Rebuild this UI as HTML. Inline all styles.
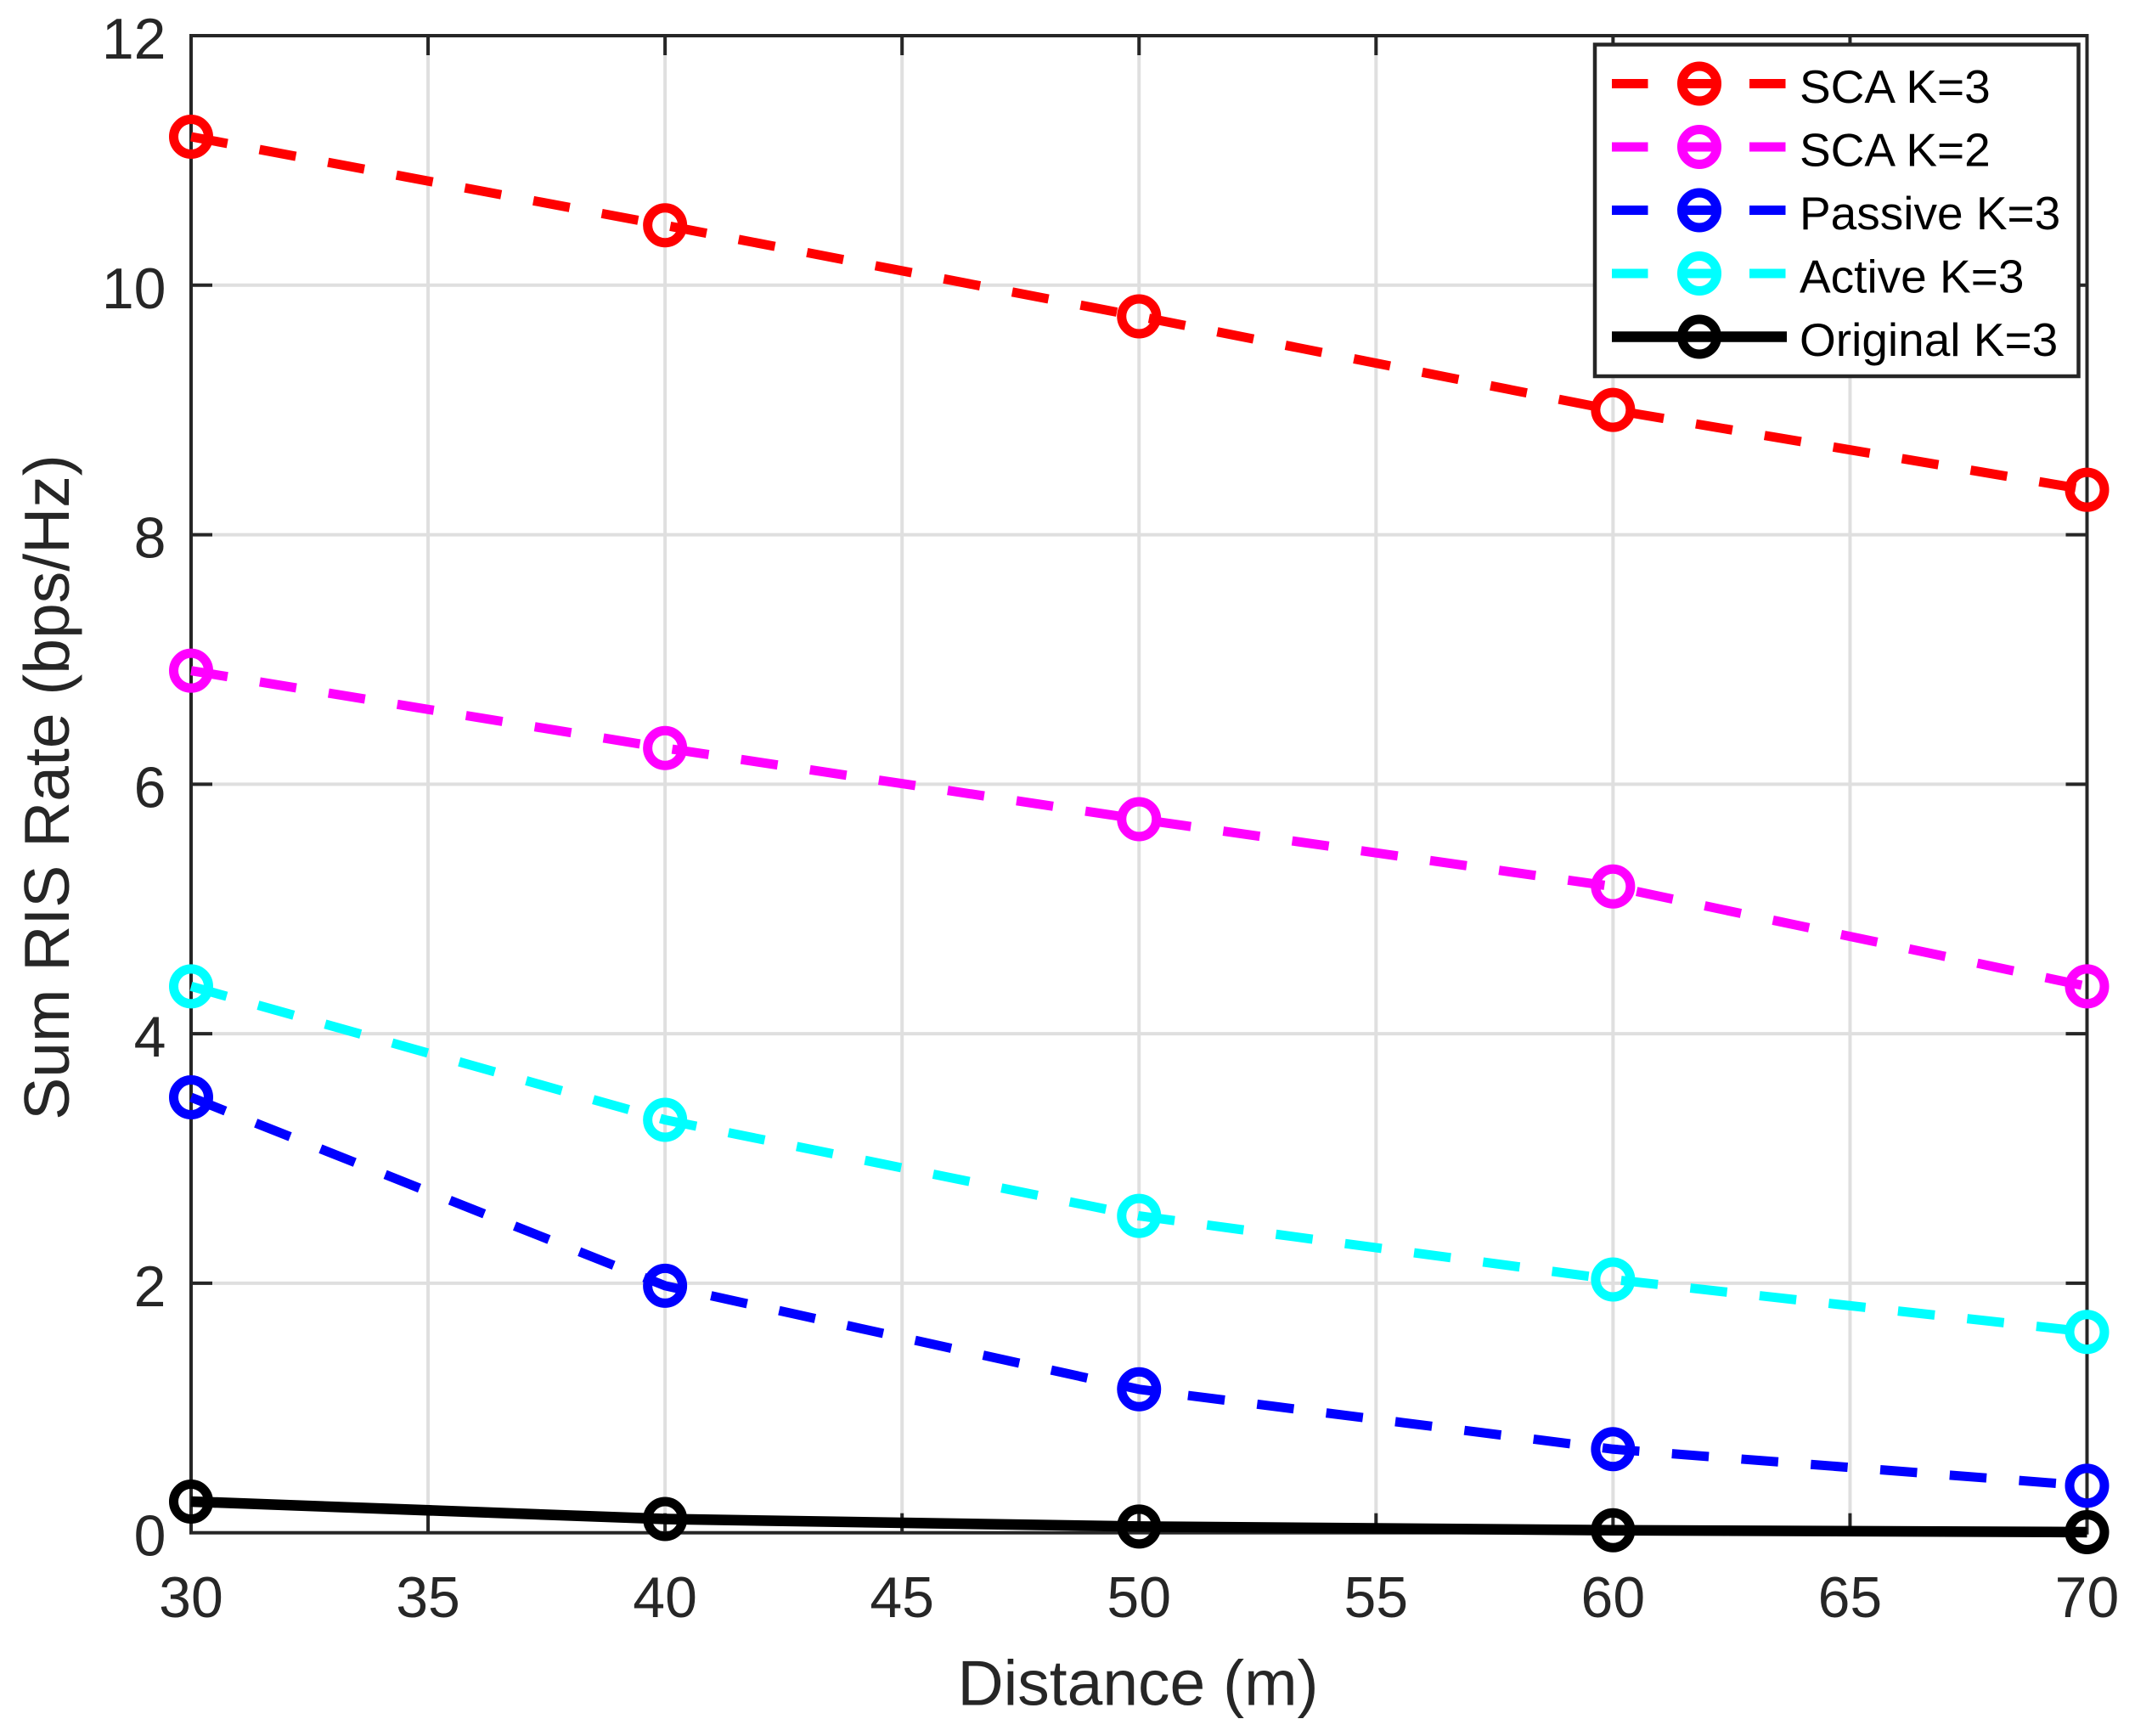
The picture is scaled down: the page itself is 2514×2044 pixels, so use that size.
<!DOCTYPE html>
<html lang="en">
<head>
<meta charset="utf-8">
<title>Sum RIS Rate vs Distance</title>
<style>
html,body{margin:0;padding:0;background:#fff;}
svg{display:block;}
text{font-family:"Liberation Sans",Arial,sans-serif;}
</style>
</head>
<body>
<svg id="chart" xmlns="http://www.w3.org/2000/svg" width="2514" height="2044" viewBox="0 0 2514 2044">
<rect x="0" y="0" width="2514" height="2044" fill="#ffffff"/>
<g id="grid"></g>
<g id="axes"></g>
<g id="series"></g>
<g id="legend"></g>
<text x="1340" y="2007.5" text-anchor="middle" font-size="75" fill="#262626">Distance (m)</text>
<text transform="translate(81,927) rotate(-90)" text-anchor="middle" font-size="75" fill="#262626">Sum RIS Rate (bps/Hz)</text>
</svg>
<script>
const distances = [30, 40, 50, 60, 70];
const scaK3 = [11.19, 10.48, 9.75, 9.0, 8.36];
const scaK2 = [6.91, 6.29, 5.72, 5.18, 4.38];
const passiveK3 = [3.49, 1.98, 1.15, 0.67, 0.377];
const activeK3 = [4.38, 3.31, 2.54, 2.03, 1.61];
const originalK3 = [0.25, 0.11, 0.05, 0.02, 0.005];
const xTicks = [30, 35, 40, 45, 50, 55, 60, 65, 70];
const yTicks = [0, 2, 4, 6, 8, 10, 12];
const seriesNames = ['SCA K=3', 'SCA K=2', 'Passive K=3', 'Active K=3', 'Original K=3'];
const seriesColors = ['#ff0000', '#ff00ff', '#0000ff', '#00ffff', '#000000'];
const seriesValues = [scaK3, scaK2, passiveK3, activeK3, originalK3];

const plotLeft = 225, plotRight = 2457.5, plotTop = 42, plotBottom = 1804.7;
const xMin = 30, xMax = 70, yMin = 0, yMax = 12;
const NS = 'http://www.w3.org/2000/svg';
const axisColor = '#262626', gridColor = '#dfdfdf';

function xScale(v) { return plotLeft + (v - xMin) / (xMax - xMin) * (plotRight - plotLeft); }
function yScale(v) { return plotBottom - (v - yMin) / (yMax - yMin) * (plotBottom - plotTop); }
function make(tag, attrs, parent) {
  const el = document.createElementNS(NS, tag);
  for (const k in attrs) el.setAttribute(k, attrs[k]);
  parent.appendChild(el);
  return el;
}
function slug(s) { return s.toLowerCase().replace(/[^a-z0-9]+/g, '-'); }

const gridG = document.getElementById('grid');
const axesG = document.getElementById('axes');
const seriesG = document.getElementById('series');
const legendG = document.getElementById('legend');

xTicks.forEach(function (t) {
  const x = xScale(t);
  if (t !== xMin && t !== xMax) {
    const g = make('line', { x1: x, x2: x, y1: plotTop, y2: plotBottom, stroke: gridColor, 'stroke-width': 4 }, gridG);
    
    
    const tb = make('line', { x1: x, x2: x, y1: plotBottom, y2: plotBottom - 23, stroke: axisColor, 'stroke-width': 4 }, axesG);
    
    
    const tt = make('line', { x1: x, x2: x, y1: plotTop, y2: plotTop + 23, stroke: axisColor, 'stroke-width': 4 }, axesG);
    
    
  }
  const lab = make('text', { x: x, y: 1904, 'text-anchor': 'middle', 'font-size': 68, fill: axisColor }, axesG);
  
  
  lab.textContent = t;
});

yTicks.forEach(function (t) {
  const y = yScale(t);
  if (t !== yMin && t !== yMax) {
    const g = make('line', { x1: plotLeft, x2: plotRight, y1: y, y2: y, stroke: gridColor, 'stroke-width': 4 }, gridG);
    
    
    const tl = make('line', { x1: plotLeft, x2: plotLeft + 25, y1: y, y2: y, stroke: axisColor, 'stroke-width': 4 }, axesG);
    
    
    const tr = make('line', { x1: plotRight, x2: plotRight - 25, y1: y, y2: y, stroke: axisColor, 'stroke-width': 4 }, axesG);
    
    
  }
  const lab = make('text', { x: 195.5, y: y + 27, 'text-anchor': 'end', 'font-size': 68, fill: axisColor }, axesG);
  
  
  lab.textContent = t;
});

const frame = make('rect', { x: plotLeft, y: plotTop, width: plotRight - plotLeft, height: plotBottom - plotTop, fill: 'none', stroke: axisColor, 'stroke-width': 4 }, axesG);



seriesValues.forEach(function (vals, i) {
  const color = seriesColors[i];
  const solid = color === '#000000';
  const g = make('g', {}, seriesG);
  
  
  const pts = vals.map(function (v, j) { return xScale(distances[j]) + ',' + yScale(v); }).join(' ');
  const line = make('polyline', { points: pts, fill: 'none', stroke: color, 'stroke-width': solid ? 12.5 : 11, 'stroke-linejoin': 'miter', 'stroke-dasharray': solid ? 'none' : '43.5 38.5' }, g);
  
  
  vals.forEach(function (v, j) {
    const c = make('circle', { cx: xScale(distances[j]), cy: yScale(v), r: 20.5, fill: 'none', stroke: color, 'stroke-width': 11 }, g);
    
    
  });
});

const legendBox = make('rect', { x: 1878, y: 52.5, width: 569.5, height: 390.5, fill: '#ffffff', stroke: axisColor, 'stroke-width': 4.5 }, legendG);



const legendRowTop = 98.5, legendRowStep = 74.5;
seriesNames.forEach(function (name, i) {
  const y = legendRowTop + i * legendRowStep;
  const color = seriesColors[i];
  const solid = color === '#000000';
  const g = make('g', {}, legendG);
  
  
  const l = make('line', { x1: 1898, x2: 2104, y1: y, y2: y, stroke: color, 'stroke-width': solid ? 12.5 : 11, 'stroke-dasharray': solid ? 'none' : '42.5 38.5' }, g);
  
  
  const c = make('circle', { cx: 2001, cy: y, r: 20.5, fill: 'none', stroke: color, 'stroke-width': 11 }, g);
  
  
  const t = make('text', { x: 2119, y: y + 22.5, 'font-size': 55, fill: '#000000' }, g);
  
  
  t.textContent = name;
});
</script>
</body>
</html>
